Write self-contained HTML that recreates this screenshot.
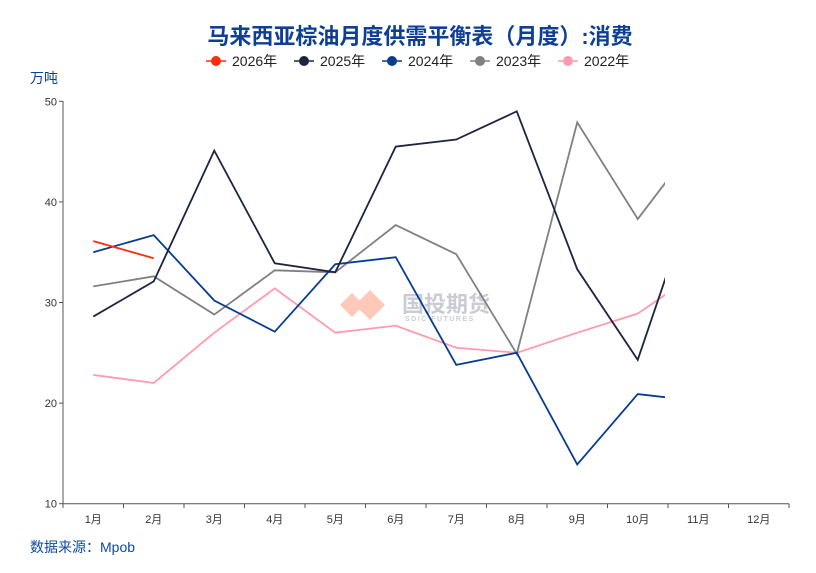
<!DOCTYPE html>
<html><head><meta charset="utf-8"><style>
body{margin:0;background:#fff;}
svg text{font-family:"Liberation Sans","Noto Sans CJK SC",sans-serif;}
</style></head><body>
<svg id="c" width="816" height="568" viewBox="0 0 816 568" xmlns="http://www.w3.org/2000/svg">
<rect width="816" height="568" fill="#fff"/>
<text x="420" y="44" text-anchor="middle" font-size="22" font-weight="bold" fill="#0d3f94">马来西亚棕油月度供需平衡表（月度）:消费</text>
<g font-size="14" fill="#222">
<line x1="206" y1="61" x2="226" y2="61" stroke="#ff2a10" stroke-width="1.5"/><circle cx="216" cy="61" r="5" fill="#ff2a10"/><text x="232" y="66">2026年</text>
<line x1="294" y1="61" x2="314" y2="61" stroke="#1e2340" stroke-width="1.5"/><circle cx="304" cy="61" r="5" fill="#1e2340"/><text x="320" y="66">2025年</text>
<line x1="382" y1="61" x2="402" y2="61" stroke="#073c92" stroke-width="1.5"/><circle cx="392" cy="61" r="5" fill="#073c92"/><text x="408" y="66">2024年</text>
<line x1="470" y1="61" x2="490" y2="61" stroke="#808080" stroke-width="1.5"/><circle cx="480" cy="61" r="5" fill="#808080"/><text x="496" y="66">2023年</text>
<line x1="558" y1="61" x2="578" y2="61" stroke="#ff9ab0" stroke-width="1.5"/><circle cx="568" cy="61" r="5" fill="#ff9ab0"/><text x="584" y="66">2022年</text>
</g>
<text x="30" y="83" font-size="14" fill="#0d3f94">万吨</text>
<text x="30" y="552" font-size="14" fill="#0d4aa6">数据来源：Mpob</text>
<g opacity="0.45">
<polygon points="340,305 352,293 364,305 352,317" fill="#ff8866"/>
<polygon points="355,305 370,290 385,305 370,320" fill="#ff8866"/>
<text x="402" y="312" font-size="22" font-weight="bold" fill="#8890a0">国投期货</text>
<text x="405" y="321" font-size="7" font-weight="bold" fill="#8890a0" letter-spacing="1.5">SDIC FUTURES</text>
</g>
<g id="axes" stroke="#555" stroke-width="1"></g>
<g id="lbl" font-size="11" fill="#333"></g>
<defs><clipPath id="cp"><rect x="60" y="90" width="605" height="420"/></clipPath></defs>
<g id="lines" clip-path="url(#cp)" fill="none" stroke-width="1.8" stroke-linejoin="miter"></g>
</svg>
<script>
var NS="http://www.w3.org/2000/svg";
function el(t,a,p,txt){var e=document.createElementNS(NS,t);for(var k in a)e.setAttribute(k,a[k]);if(txt)e.textContent=txt;document.getElementById(p).appendChild(e);}
var x0=63,b=60.5,y=function(v){return 101.3+(50-v)*10.06;};
el("line",{x1:x0,y1:101,x2:x0,y2:503.7},"axes");
el("line",{x1:x0,y1:503.7,x2:x0+12*b,y2:503.7},"axes");
[10,20,30,40,50].forEach(function(v){el("line",{x1:x0-4,y1:y(v),x2:x0,y2:y(v)},"axes");el("text",{x:x0-6,y:y(v)+4,"text-anchor":"end"},"lbl",""+v);});
for(var i=0;i<=12;i++)el("line",{x1:x0+i*b,y1:503.7,x2:x0+i*b,y2:508},"axes");
for(var i=0;i<12;i++)el("text",{x:x0+(i+.5)*b,y:523,"text-anchor":"middle"},"lbl",(i+1)+"月");
var S=[
["#ff9ab0",[22.8,22.0,27.0,31.4,27.0,27.7,25.5,25.0,27.0,28.9,33.0]],
["#808080",[31.6,32.6,28.8,33.2,33.0,37.7,34.8,24.9,47.9,38.3,46.2]],
["#073c92",[35.0,36.7,30.2,27.1,33.8,34.5,23.8,25.0,13.9,20.9,20.2]],
["#1e2340",[28.6,32.1,45.1,33.9,33.0,45.5,46.2,49.0,33.3,24.3,42]],
["#ff2a10",[36.1,34.4]]];
S.forEach(function(s){el("polyline",{stroke:s[0],points:s[1].map(function(v,i){return (x0+(i+.5)*b)+","+y(v);}).join(" ")},"lines");});
</script>
</body></html>
